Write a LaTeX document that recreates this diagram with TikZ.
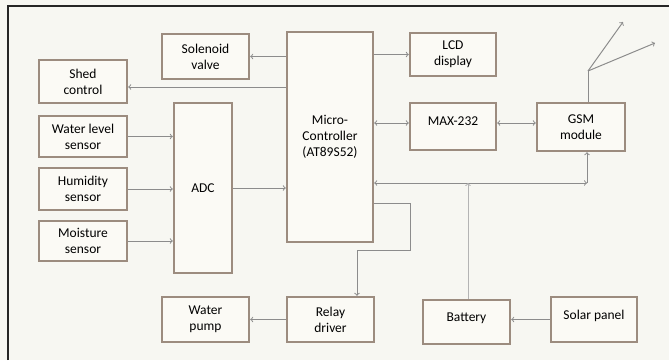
\documentclass[tikz,border=0pt]{standalone}
\usepackage{fontspec}
\setmainfont{Carlito}
\usepackage{xcolor}
\usetikzlibrary{shapes,arrows,positioning,calc}

\definecolor{paper}{HTML}{F7F7F2}
\definecolor{boxline}{HTML}{9C8C7F}
\definecolor{boxfill}{HTML}{FBFAF5}
\definecolor{wire}{HTML}{8C8C8C}
\definecolor{palewire}{HTML}{B4B4B4}

\begin{document}
\begin{tikzpicture}[x=1pt, y=-1pt,
    block/.style={rectangle, draw=boxline, line width=2.4pt, fill=boxfill,
        align=center, inner sep=2pt, font=\fontsize{13.5}{16}\selectfont},
    arr/.style={->, wire, line width=1pt}]
    % Page
    \useasboundingbox (0,0) rectangle (669,360);
    \fill[paper] (0,0) rectangle (669,360);
    \draw[line width=1.5pt, black!85] (8,360) -- (8,6) -- (669,6);

    % Blocks
    \node[block, minimum width=87, minimum height=45] (solenoid) at (205.5, 56.5) {Solenoid\\valve};
    \node[block, minimum width=88, minimum height=43] (shed) at (83, 81.5) {Shed\\control};
    \node[block, minimum width=88, minimum height=41] (wlevel) at (83, 136.5) {Water level\\sensor};
    \node[block, minimum width=88, minimum height=42] (humid) at (83, 189) {Humidity\\sensor};
    \node[block, minimum width=88, minimum height=40] (moist) at (83, 241) {Moisture\\sensor};
    \node[block, minimum width=58, minimum height=170] (adc) at (203, 188) {ADC};
    \node[block, minimum width=86, minimum height=210] (micro) at (330, 137)
        {\raisebox{14pt}{\begin{tabular}{@{}c@{}}Micro-\\Controller\\(AT89S52)\end{tabular}}};
    \node[block, minimum width=86, minimum height=43] (lcd) at (453, 54.5) {LCD\\display};
    \node[block, minimum width=86, minimum height=47] (max) at (453, 126.5) {\raisebox{10pt}{MAX-232}};
    \node[block, minimum width=88, minimum height=48] (gsm) at (581, 127) {GSM\\module};
    \node[block, minimum width=87, minimum height=45] (pump) at (205.5, 319.5) {Water\\pump};
    \node[block, minimum width=87, minimum height=45] (relay) at (330.5, 319.5) {Relay\\driver};
    \node[block, minimum width=87, minimum height=44] (battery) at (466.5, 322) {\raisebox{10pt}{Battery}};
    \node[block, minimum width=86, minimum height=45] (solar) at (594, 319.5) {\raisebox{10pt}{Solar panel}};

    % Corners of the wires
    \coordinate (bus) at (587, 183);
    \coordinate (bend) at (410, 250);
    \coordinate (ant) at (588, 71);
    \coordinate (antA) at (623, 22);
    \coordinate (antB) at (655, 43);

    % Outputs of the controller
    \draw[arr] (micro.west |- solenoid.east) -- (solenoid.east);
    \draw[arr] (micro.west |- 0,87) -- (shed.east |- 0,87);
    \draw[arr] (micro.east |- lcd.west) -- (lcd.west);
    \draw[arr] (micro.east |- 0,203) -| (bend) -| (relay.north -| 357,0);
    \draw[arr] (relay.west) -- (pump.east);

    % Sensors
    \draw[arr] (wlevel.east) -- (adc.west |- wlevel.east);
    \draw[arr] (humid.east) -- (adc.west |- humid.east);
    \draw[arr] (moist.east) -- (adc.west |- moist.east);
    \draw[arr] (adc.east) -- (micro.west |- adc.east);

    % Serial link and GSM
    \draw[arr, <->] (micro.east |- 0,123) -- (max.west |- 0,123);
    \draw[arr, <->] (max.east |- 0,123) -- (gsm.west |- 0,123);
    \draw[arr, <->] (micro.east |- bus) -- (bus);
    \draw[arr] (bus) -- (gsm.south -| bus);
    \draw[wire, line width=1pt] (gsm.north -| ant) -- (ant);
    \draw[arr] (ant) -- (antA);
    \draw[arr] (ant) -- (antB);

    % Power
    \draw[arr, palewire] (battery.north -| 468,0) -- (bus -| 468,0);
    \draw[arr] (solar.west) -- (battery.east |- solar.west);
\end{tikzpicture}
\end{document}
